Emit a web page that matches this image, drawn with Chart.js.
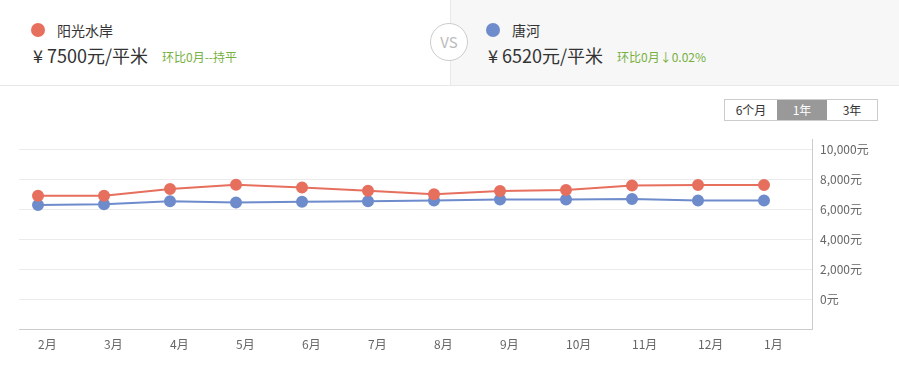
<!DOCTYPE html>
<html>
<head>
<meta charset="utf-8">
<script src="https://cdn.jsdelivr.net/npm/chart.js@4/dist/chart.umd.min.js"></script>
<style>
    body { margin: 0; width: 899px; height: 370px; background: #fff; position: relative; overflow: hidden;
           font-family: "Noto Sans CJK SC", "Noto Sans", sans-serif; color: #333; }
    .half { position: absolute; top: 0; height: 85px; border-bottom: 1px solid #e8e8e8; }
    #left { left: 0; width: 450px; background: #fff; }
    #right { left: 450px; width: 448px; background: #f7f7f7; border-left: 1px solid #e8e8e8; border-right: 1px solid #e8e8e8; }
    .dot { position: absolute; top: 23px; width: 14px; height: 14px; border-radius: 50%; }
    .name { position: absolute; top: 20px; font-size: 14px; line-height: 20px; color: #333; }
    .price { position: absolute; top: 43px; font-size: 18px; line-height: 24px; color: #333; white-space: nowrap; }
    .change { position: absolute; top: 48px; font-size: 12px; line-height: 18px; color: #76b041; white-space: nowrap; }
    #vs { position: absolute; left: 430px; top: 23px; width: 36px; height: 36px; border: 1px solid #ccc; border-radius: 50%;
          background: #fff; color: #bbb; font-size: 15px; line-height: 36px; text-align: center; z-index: 2; }
    #btns { position: absolute; left: 724px; top: 99px; height: 20px; border: 1px solid #ccc; display: flex; font-size: 12px; }
    #btns div { height: 20px; line-height: 20px; text-align: center; color: #333; }
    #btns .on { background: #999; color: #fff; }
    #wrap { position: absolute; left: 0; top: 130px; width: 899px; height: 240px; }
</style>
</head>
<body>
<div class="half" id="left"></div>
<div class="half" id="right"></div>
<div id="vs">VS</div>

<div class="dot" style="left:31px;background:#e66f5e"></div>
<div class="name" style="left:57px">阳光水岸</div>
<div class="price" style="left:33px">¥ 7500元/平米</div>
<div class="change" style="left:162px">环比0月--持平</div>

<div class="dot" style="left:486px;background:#6e8bcb"></div>
<div class="name" style="left:512px">唐河</div>
<div class="price" style="left:488px">¥ 6520元/平米</div>
<div class="change" style="left:617px">环比0月↓0.02%</div>

<div id="btns">
    <div style="width:52px">6个月</div>
    <div class="on" style="width:50px">1年</div>
    <div style="width:50px">3年</div>
</div>

<div id="wrap"><canvas id="priceChart"></canvas></div>

<script>
const MONTHS = ['2月', '3月', '4月', '5月', '6月', '7月', '8月', '9月', '10月', '11月', '12月', '1月'];
const YANGGUANG = [6880, 6880, 7330, 7620, 7440, 7220, 6990, 7200, 7270, 7570, 7600, 7600];
const TANGHE = [6270, 6310, 6510, 6440, 6490, 6510, 6570, 6640, 6640, 6670, 6570, 6570];
const Y_TICKS = [-2000, 0, 2000, 4000, 6000, 8000, 10000];

const RED = '#e66f5e';
const BLUE = '#6e8bcb';

function toPoints(values) {
    return values.map((v, i) => ({x: i, y: v}));
}

function lineSet(label, values, color) {
    return {
        label: label,
        data: toPoints(values),
        borderColor: color,
        backgroundColor: color,
        pointBackgroundColor: color,
        pointBorderColor: color,
        borderWidth: 2,
        pointRadius: 5,
        pointHoverRadius: 5,
        tension: 0,
        fill: false,
    };
}

const config = {
    type: 'line',
    data: {
        datasets: [
            lineSet('阳光水岸', YANGGUANG, RED),
            lineSet('唐河', TANGHE, BLUE),
        ]
    },
    options: {
        responsive: true,
        maintainAspectRatio: false,
        animation: false,
        layout: {
            padding: {left: 19, top: 9, right: 0, bottom: 11}
        },
        plugins: {
            legend: {display: false},
            tooltip: {enabled: false},
        },
        scales: {
            x: {
                type: 'linear',
                min: -0.288,
                max: 11.727,
                afterBuildTicks: (scale) => {
                    scale.ticks = MONTHS.map((m, i) => ({value: i}));
                },
                afterFit: (scale) => {
                    scale.height = 30;
                    scale.paddingLeft = 0;
                    scale.paddingRight = 0;
                },
                grid: {display: false, drawTicks: false},
                border: {display: true, color: '#ccc', width: 1},
                ticks: {
                    align: 'start',
                    padding: 8,
                    autoSkip: false,
                    maxRotation: 0,
                    color: '#666',
                    font: {size: 12, family: '"Noto Sans CJK SC", sans-serif'},
                    callback: (v) => MONTHS[v],
                }
            },
            y: {
                position: 'right',
                min: -2000,
                max: 10667,
                afterBuildTicks: (scale) => {
                    scale.ticks = Y_TICKS.map(v => ({value: v}));
                },
                afterFit: (scale) => {
                    scale.width = 87;
                    // labels sit well inside the axis, no extra room needed
                    scale.paddingTop = 0;
                    scale.paddingBottom = 0;
                },
                grid: {
                    drawTicks: false,
                    color: (ctx) => (ctx.tick && ctx.tick.value < 0) ? 'rgba(0,0,0,0)' : '#ebebeb',
                    lineWidth: 1,
                },
                border: {display: true, color: '#ccc', width: 1},
                ticks: {
                    padding: 8,
                    color: '#666',
                    font: {size: 12, family: '"Noto Sans CJK SC", sans-serif'},
                    callback: (v) => v < 0 ? '' : v.toLocaleString('en-US') + '元',
                }
            }
        }
    }
};

new Chart(document.getElementById('priceChart').getContext('2d'), config);
</script>
</body>
</html>
